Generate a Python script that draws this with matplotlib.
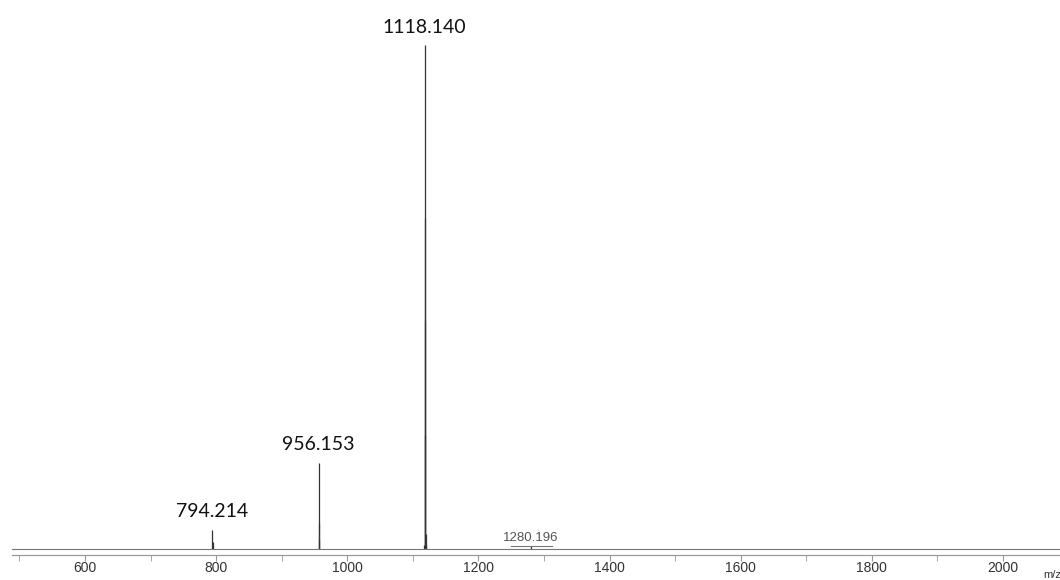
import numpy as np
import matplotlib.pyplot as plt
from matplotlib.ticker import MultipleLocator

# peak sticks (m/z, relative intensity %)
peak_mz = [794.2, 794.6, 956.15, 956.4, 956.7, 1117.8, 1118.14, 1118.5, 1118.9, 1119.3, 1119.7, 1120.2, 1280.2]
peak_int = [3.8, 1.5, 17.1, 5.2, 1.8, 0.8, 100.0, 65.7, 45.4, 22.6, 3.0, 0.8, 0.6]

# labelled peaks
label_mz = [794.214, 956.153, 1118.140]
label_int = [3.8, 17.1, 100.0]
label_txt = ["794.214", "956.153", "1118.140"]

fig = plt.figure(figsize=(10.6, 5.8), dpi=100)
ax = fig.add_axes([0, 25/580, 1, 555/580])

ax.set_xlim(470.4, 2087)
ax.set_ylim(-5.7/5.04, 549.3/5.04)

ax.vlines(peak_mz, 0, peak_int, color="#333333", lw=0.9)
ax.axhline(0, xmin=0.011, color="#777777", lw=0.8)

for mz, h, t in zip(label_mz, label_int, label_txt):
    ax.annotate(t, (mz, h), xytext=(0, 7), textcoords="offset points",
                ha="center", va="bottom", fontsize=14, family="Lato",
                color="#111111")

ax.text(1280.196, 1.0, "1280.196", ha="center", va="bottom", fontsize=9.5,
        family="Liberation Sans", color="#555555")
ax.plot([1249, 1312], [0.75, 0.75], color="#777777", lw=0.8)

for s in ["top", "right", "left"]:
    ax.spines[s].set_visible(False)
ax.spines["bottom"].set_color("#999999")
ax.spines["bottom"].set_linewidth(0.9)
ax.spines["bottom"].set_bounds(489, 2087)
ax.set_yticks([])
ax.xaxis.set_major_locator(MultipleLocator(200))
ax.xaxis.set_minor_locator(MultipleLocator(100))
ax.tick_params(axis="x", which="both", direction="out", length=4,
               color="#999999", labelsize=10, labelcolor="#333333", pad=0.5)
for lab in ax.get_xticklabels():
    lab.set_family("Liberation Sans")

fig.text(1043/1060, 0, "m/z", fontsize=8, family="Liberation Sans",
         color="#333333", ha="left", va="bottom")

fig.savefig("out.png", dpi=100)
